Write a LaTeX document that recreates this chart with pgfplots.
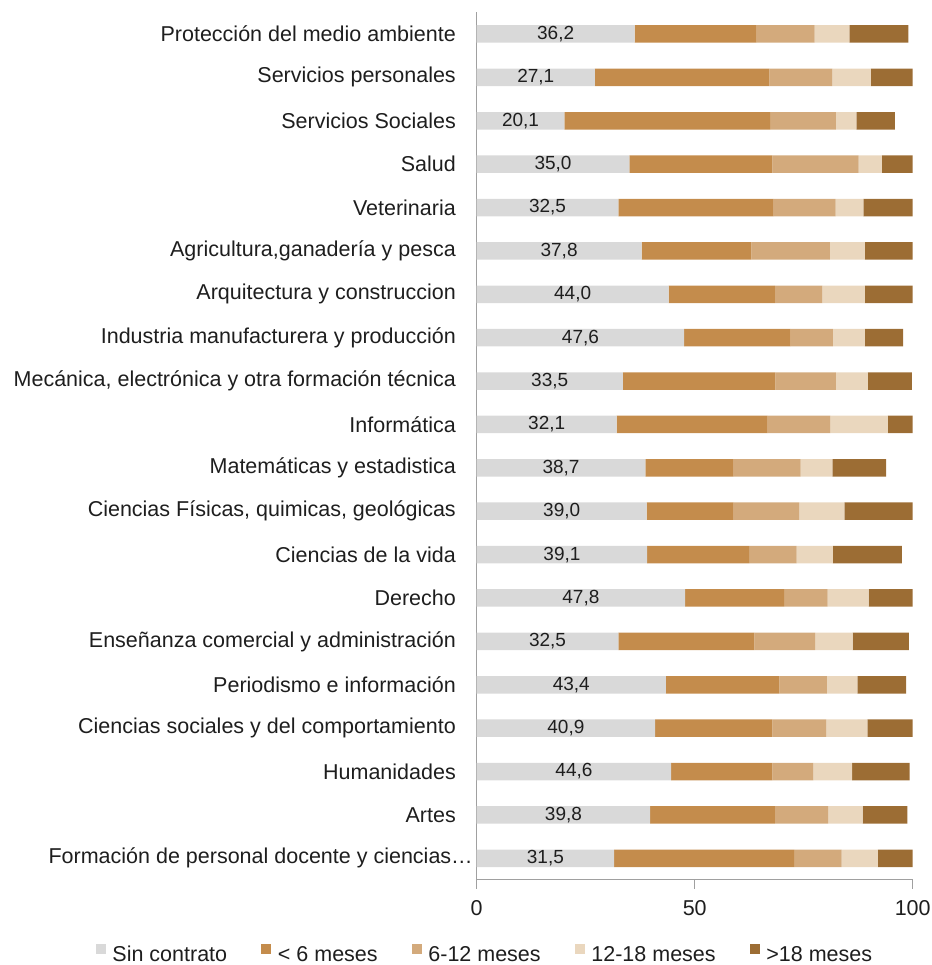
\documentclass[border=0pt]{standalone}
\usepackage{fontspec}
\setmainfont{Liberation Sans}
\usepackage{pgfplots}
\usepackage{pgfplotstable}
\pgfplotsset{compat=1.18}
\definecolor{c0}{RGB}{217,217,217}
\definecolor{c1}{RGB}{196,140,76}
\definecolor{c2}{RGB}{211,170,124}
\definecolor{c3}{RGB}{234,215,190}
\definecolor{c4}{RGB}{156,109,52}
\definecolor{axc}{RGB}{160,160,160}
\definecolor{txt}{RGB}{30,30,30}

\pgfplotstableread{
idx sin a b c d
0 31.5 41.3 10.9 8.3 8.0
1 39.8 28.6 12.2 7.9 10.3
2 44.6 23.2 9.4 8.9 13.2
3 40.9 26.9 12.4 9.4 10.4
4 43.4 26.0 10.9 7.0 11.2
5 32.5 31.2 13.9 8.6 12.9
6 47.8 22.7 10.0 9.4 10.1
7 39.1 23.4 10.9 8.3 15.8
8 39.0 19.9 15.1 10.3 15.7
9 38.7 20.2 15.4 7.3 12.3
10 32.1 34.6 14.4 13.2 5.7
11 33.5 35.0 13.9 7.3 10.1
12 47.6 24.4 9.7 7.3 8.8
13 44.0 24.4 10.9 9.7 11.0
14 37.8 25.2 18.0 8.0 11.0
15 32.5 35.6 14.2 6.4 11.3
16 35.0 32.8 19.8 5.3 7.1
17 20.1 47.2 15.1 4.7 8.8
18 27.1 40.0 14.5 8.8 9.6
19 36.2 28.0 13.3 8.0 13.5
}\datatab

\begin{document}
\begin{tikzpicture}[x=1pt,y=1pt]
\useasboundingbox (0,0) rectangle (931,965);
\begin{axis}[
  at={(476.7pt,85pt)}, anchor=south west,
  scale only axis, width=436pt, height=867.7pt,
  xbar stacked, bar width=17.5pt,
  xmin=0, xmax=100, ymin=-0.5, ymax=19.5,
  axis x line*=bottom, axis y line*=left,
  axis line style={axc, line width=1pt, -},
  xtick={0,50,100},
  ytick=\empty,
  minor ytick={-0.5,0.5,...,19.5},
  tick align=outside,
  major tick length=9pt,
  minor tick length=6pt,
  tick style={axc, line width=1pt},
  /pgf/number format/assume math mode=true,
  xticklabel style={font=\fontsize{21.5}{25}\selectfont, text=txt, inner sep=0pt, anchor=north, yshift=-11pt},
  legend columns=5,
  legend cell align=left,
  legend image code/.code={\fill[#1,draw=none] (0pt,0pt) rectangle (10pt,10pt);},
  legend style={at={(0.0167,-0.0850)}, anchor=center, draw=none, fill=none,
    font=\fontsize{21.5}{25}\selectfont, text=txt, inner sep=0pt,
    nodes={inner sep=0pt},
    /tikz/every odd column/.append style={column sep=6.7pt},
    /tikz/every even column/.append style={column sep=34pt}},
]
\addplot[fill=c0, draw=none] table[x=sin, y=idx] \datatab;
\addplot[fill=c1, draw=none] table[x=a, y=idx] \datatab;
\addplot[fill=c2, draw=none] table[x=b, y=idx] \datatab;
\addplot[fill=c3, draw=none] table[x=c, y=idx] \datatab;
\addplot[fill=c4, draw=none] table[x=d, y=idx] \datatab;
\legend{Sin contrato, < 6 meses, 6-12 meses, 12-18 meses, >18 meses}
\end{axis}
\begin{axis}[
  at={(476.7pt,85pt)}, anchor=south west,
  scale only axis, width=436pt, height=867.7pt,
  xmin=0, xmax=100, ymin=-0.5, ymax=19.5,
  axis line style={draw=none}, tick style={draw=none},
  xtick=\empty,
  ytick={0,...,19},
  yticklabels={{Formación de personal docente y ciencias…\hspace*{-17pt}},
    {Artes},{Humanidades},{Ciencias sociales y del comportamiento},
    {Periodismo e información},{Enseñanza comercial y administración},
    {Derecho},{Ciencias de la vida},{Ciencias Físicas, quimicas, geológicas},
    {Matemáticas y estadistica},{Informática},
    {Mecánica, electrónica y otra formación técnica},
    {Industria manufacturera y producción},{Arquitectura y construccion},
    {Agricultura,ganadería y pesca},{Veterinaria},{Salud},
    {Servicios Sociales},{Servicios personales},{Protección del medio ambiente}},
  yticklabel style={font=\fontsize{21.5}{25}\selectfont, text=txt, inner sep=0pt, anchor=east, xshift=-20.7pt},
  /pgf/number format/assume math mode=true,
]
\addplot[draw=none, mark=none, nodes near coords, point meta=explicit,
  nodes near coords style={anchor=center, inner sep=0pt, text=txt, font=\fontsize{19}{22}\selectfont,
    /pgf/number format/.cd, fixed, fixed zerofill, precision=1, use comma, assume math mode=true}]
  table[x expr=\thisrow{sin}/2, y=idx, meta=sin] \datatab;
\end{axis}
\end{tikzpicture}
\end{document}
